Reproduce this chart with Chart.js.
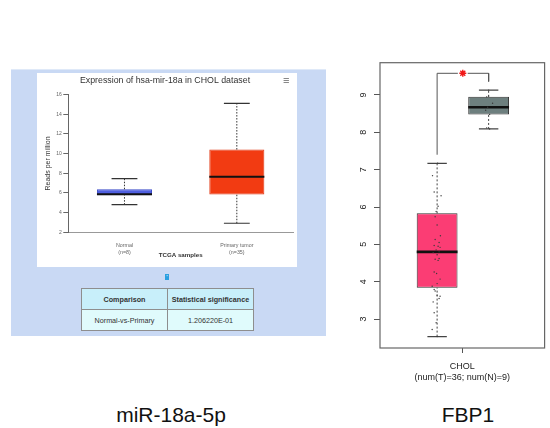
<!DOCTYPE html>
<html><head><meta charset="utf-8">
<script src="https://cdn.jsdelivr.net/npm/chart.js@4"></script>
<style>
html,body{margin:0;padding:0;background:#fff;width:550px;height:428px;overflow:hidden;position:relative;font-family:"Liberation Sans",Arial,sans-serif;}
#panel{position:absolute;left:11px;top:69px;width:315px;height:267px;background:#c9d9f4;border-top:1px solid #dfe9f8;box-sizing:border-box;}
#white{position:absolute;left:37px;top:73px;width:260px;height:194px;background:#fff;}
#c1{position:absolute;left:37px;top:73px;}
#c2{position:absolute;left:330px;top:55px;}
#menu{position:absolute;left:283px;top:74px;font-size:11px;line-height:12px;color:#666;}
#mark{position:absolute;left:165px;top:274px;width:4px;height:6px;background:#2a9fe0;font-size:4px;line-height:6px;color:#fff;text-align:center;}
#tbl{position:absolute;left:81px;top:288px;border-collapse:collapse;font-size:7.2px;color:#333;}
#tbl th{background:#c8effa;height:20px;width:85px;border:1px solid #8e8e8e;font-weight:bold;padding:0;}
#tbl td{background:#e0fbfc;height:20px;width:85px;border:1px solid #8e8e8e;text-align:center;padding:0;}
.cap{position:absolute;top:405px;font-size:21px;line-height:20px;color:#111;transform:translateX(-50%);white-space:nowrap;}
</style></head>
<body>
<div id="panel"></div>
<div id="white"></div>
<canvas id="c1" width="260" height="194"></canvas>
<div id="menu">&#8801;</div>
<div id="mark">*</div>
<table id="tbl"></table>
<canvas id="c2" width="220" height="340"></canvas>
<div class="cap" style="left:171px">miR-18a-5p</div>
<div class="cap" style="left:468px">FBP1</div>
<script>
// ---------- Left chart data (miR-18a) ----------
const mirCategories = ['Normal', 'Primary tumor'];
const mirCounts = ['(n=8)', '(n=35)'];
const mirMin = [4.81, 2.92];
const mirQ1 = [5.77, 5.83];
const mirMedian = [5.87, 7.65];
const mirQ3 = [6.38, 10.41];
const mirMax = [7.46, 15.1];
const mirYTicks = [2, 4, 6, 8, 10, 12, 14, 16];
const comparisons = ['Normal-vs-Primary'];
const significance = ['1.206220E-01'];

// ---------- Right chart data (FBP1) ----------
const fbpGroups = ['Tumor', 'Normal'];
const fbpPos = [0.347, 0.66];
const fbpMin = [2.53, 8.09];
const fbpQ1 = [3.84, 8.48];
const fbpMedian = [4.80, 8.67];
const fbpQ3 = [5.83, 8.95];
const fbpMax = [7.17, 9.13];
const fbpTumorValues = [7.17, 6.84, 6.40, 6.30, 6.02, 5.88, 5.74, 5.52, 5.23, 5.13, 5.05, 4.97,
  4.95, 4.92, 4.85, 4.80, 4.78, 4.72, 4.62, 4.60, 4.57, 4.26, 4.22, 4.07,
  3.95, 3.88, 3.79, 3.75, 3.64, 3.61, 3.55, 3.46, 3.17, 2.90, 2.72, 2.53];
const fbpTumorJitter = [0.003, -0.028, -0.018, 0.024, 0.006, -0.006, -0.012, 0, 0.02, -0.012, 0.012, -0.018,
  0.006, 0.018, -0.006, 0.012, -0.024, 0, 0.012, -0.012, 0.006, -0.018, -0.003, 0.018,
  0, -0.03, -0.018, -0.012, 0, 0.018, 0.012, -0.024, -0.018, -0.006, -0.03, 0];
const fbpNormalValues = [9.13, 8.97, 8.95, 8.78, 8.67, 8.59, 8.48, 8.12, 8.09];
const fbpNormalJitter = [0, 0, -0.012, 0.024, -0.006, -0.018, 0.006, -0.012, 0.006];
const fbpYTicks = [3, 4, 5, 6, 7, 8, 9];
const fbpXTickLabel = ['CHOL', '(num(T)=36; num(N)=9)'];
const bracketY = [7.40, 9.58, 9.36];
const starX = 0.503;

// table
document.getElementById('tbl').innerHTML =
  '<tr><th>Comparison</th><th>Statistical significance</th></tr>' +
  comparisons.map((c, i) => '<tr><td>' + c + '</td><td>' + significance[i] + '</td></tr>').join('');

function segs(list) {
  const out = [];
  list.forEach((s, k) => {
    if (k) out.push({x: s[0][0], y: null});
    out.push({x: s[0][0], y: s[0][1]}, {x: s[1][0], y: s[1][1]});
  });
  return out;
}
const FONT = '"Liberation Sans", Arial, sans-serif';

// ---------- Left chart ----------
const L_BOX = 0.49, L_CAP = 0.115;
const lWhisk = [], lCaps = [], lMed = [];
mirCategories.forEach((c, i) => {
  lWhisk.push([[i, mirQ3[i]], [i, mirMax[i]]], [[i, mirMin[i]], [i, mirQ1[i]]]);
  lCaps.push([[i - L_CAP, mirMax[i]], [i + L_CAP, mirMax[i]]], [[i - L_CAP, mirMin[i]], [i + L_CAP, mirMin[i]]]);
  lMed.push([[i - L_BOX / 2, mirMedian[i]], [i + L_BOX / 2, mirMedian[i]]]);
});
const lineBase = {type: 'line', xAxisID: 'xw', pointRadius: 0, fill: false, tension: 0};

new Chart(document.getElementById('c1'), {
  type: 'bar',
  data: {
    labels: mirCategories,
    datasets: [
      {data: mirQ1.map((q, i) => [q, mirQ3[i]]), backgroundColor: ['#4f5fe0', '#f23b12'],
       borderColor: ['#3b4bc8', '#e03510'], borderWidth: 1, borderSkipped: false, grouped: false,
       barPercentage: L_BOX, categoryPercentage: 1, order: 5},
      Object.assign({}, lineBase, {data: segs(lWhisk), borderColor: '#333', borderWidth: 1, borderDash: [1.5, 1.5], order: 4}),
      Object.assign({}, lineBase, {data: segs(lCaps), borderColor: '#333', borderWidth: 1.2, order: 3}),
      Object.assign({}, lineBase, {data: segs(lMed), borderColor: '#111', borderWidth: 2, order: 2})
    ]
  },
  options: {
    responsive: false, animation: false, devicePixelRatio: 1,
    layout: {padding: {left: 0, right: 4, top: 0, bottom: 0}},
    plugins: {
      legend: {display: false}, tooltip: {enabled: false},
      title: {display: true, text: 'Expression of hsa-mir-18a in CHOL dataset', color: '#333',
        font: {family: FONT, size: 8.8, weight: 'normal'}, padding: {top: 2.6, bottom: 8.4}}
    },
    scales: {
      x: {type: 'category', offset: true,
        grid: {display: false}, border: {display: true, color: '#999', width: 1},
        ticks: {color: '#666', font: {family: FONT, size: 5.3, lineHeight: 1.2}, padding: 2.4,
          callback: (v, i) => [mirCategories[i], mirCounts[i]]},
        title: {display: true, text: 'TCGA samples', color: '#333', font: {family: FONT, size: 6.2, weight: 'bold'},
          padding: {top: 0, bottom: 8.3}},
        afterFit: s => { s.height = 34.7; s.paddingLeft = 0; s.paddingRight = 0; }},
      xw: {type: 'linear', display: false, min: -0.5, max: 1.5, offset: false},
      y: {type: 'linear', min: 2, max: 16,
        afterBuildTicks: s => { s.ticks = mirYTicks.map(v => ({value: v})); },
        grid: {display: true, drawOnChartArea: false, drawTicks: true, tickLength: 5, color: '#666'},
        border: {display: true, color: '#666', width: 1},
        ticks: {color: '#666', font: {family: FONT, size: 5}, padding: 1.5},
        title: {display: true, text: 'Reads per million', color: '#333', font: {family: FONT, size: 7},
          padding: {top: 6.5, bottom: 0}},
        afterFit: s => { s.width = 31.3; s.paddingTop = 0; s.paddingBottom = 0; }}
    }
  }
});

// ---------- Right chart ----------
const R_BOX_HALF = 0.124, R_CAP = 0.059;
const rWhisk = [], rCaps = [], rMed = [];
fbpPos.forEach((p, i) => {
  rWhisk.push([[p, fbpQ3[i]], [p, fbpMax[i]]], [[p, fbpMin[i]], [p, fbpQ1[i]]]);
  rCaps.push([[p - R_CAP, fbpMax[i]], [p + R_CAP, fbpMax[i]]], [[p - R_CAP, fbpMin[i]], [p + R_CAP, fbpMin[i]]]);
  rMed.push([[p - R_BOX_HALF, fbpMedian[i]], [p + R_BOX_HALF, fbpMedian[i]]]);
});
const bracket = segs([
  [[fbpPos[0], bracketY[0]], [fbpPos[0], bracketY[1]]],
  [[fbpPos[0], bracketY[1]], [starX - 0.03, bracketY[1]]],
  [[starX + 0.03, bracketY[1]], [fbpPos[1], bracketY[1]]],
  [[fbpPos[1], bracketY[1]], [fbpPos[1], bracketY[2]]]
]);
const pts = fbpTumorValues.map((v, i) => ({x: fbpPos[0] + fbpTumorJitter[i], y: v}))
  .concat(fbpNormalValues.map((v, i) => ({x: fbpPos[1] + fbpNormalJitter[i], y: v})));
const rLine = {type: 'line', xAxisID: 'x', pointRadius: 0, fill: false, tension: 0};

const framePlugin = {
  id: 'frame',
  afterDatasetsDraw(chart) {
    const a = chart.chartArea, ctx = chart.ctx;
    ctx.save(); ctx.strokeStyle = '#666'; ctx.lineWidth = 1.2;
    ctx.strokeRect(a.left, a.top, a.right - a.left, a.bottom - a.top);
    ctx.restore();
  }
};

new Chart(document.getElementById('c2'), {
  type: 'bar',
  data: {
    datasets: [
      {data: fbpPos.map((p, i) => ({x: p, y: [fbpQ1[i], fbpQ3[i]]})),
       backgroundColor: ['#fb3d74', '#6d7f7e'], borderColor: '#333', borderWidth: 1, borderSkipped: false, grouped: false,
       barPercentage: 2 * R_BOX_HALF / (fbpPos[1] - fbpPos[0]), categoryPercentage: 1, order: 6},
      Object.assign({}, rLine, {data: segs(rWhisk), borderColor: '#444', borderWidth: 1, borderDash: [2, 2], order: 5}),
      Object.assign({}, rLine, {data: segs(rCaps), borderColor: '#444', borderWidth: 1.2, order: 4}),
      Object.assign({}, rLine, {data: segs(rMed), borderColor: '#111', borderWidth: 2.6, order: 3}),
      {type: 'scatter', data: pts, pointRadius: 0.7, pointBackgroundColor: '#3a3a3a', pointBorderWidth: 0, order: 2},
      Object.assign({}, rLine, {data: bracket, borderColor: '#555', borderWidth: 1, order: 1}),
      {type: 'scatter', data: [{x: starX, y: bracketY[1]}], pointStyle: 'star', pointRadius: 3.5,
       pointBorderColor: '#f01818', pointBorderWidth: 1.4, order: 0}
    ]
  },
  options: {
    responsive: false, animation: false, devicePixelRatio: 1,
    layout: {padding: {left: 0, right: 1, top: 7.7, bottom: 0}},
    plugins: {legend: {display: false}, tooltip: {enabled: false}, title: {display: false}},
    scales: {
      x: {type: 'linear', min: 0, max: 1, offset: false,
        afterBuildTicks: s => { s.ticks = [{value: 0.5}]; },
        grid: {display: true, drawOnChartArea: false, drawTicks: true, tickLength: 5, color: '#555', offset: false},
        border: {display: false},
        ticks: {color: '#222', font: {family: FONT, size: 9, lineHeight: 1.22}, padding: 7.6,
          maxRotation: 0, minRotation: 0, callback: () => fbpXTickLabel},
        afterFit: s => { s.height = 47; s.paddingLeft = 0; s.paddingRight = 0; }},
      y: {type: 'linear', min: 2.225, max: 9.864,
        afterBuildTicks: s => { s.ticks = fbpYTicks.map(v => ({value: v})); },
        grid: {display: true, drawOnChartArea: false, drawTicks: true, tickLength: 6, color: '#555'},
        border: {display: false},
        ticks: {color: '#222', font: {family: FONT, size: 9}, padding: 7.5, minRotation: 90, maxRotation: 90,
          crossAlign: 'center'},
        afterFit: s => { s.width = 50; s.paddingTop = 0; s.paddingBottom = 0; }}
    }
  },
  plugins: [framePlugin]
});
</script>
</body></html>
